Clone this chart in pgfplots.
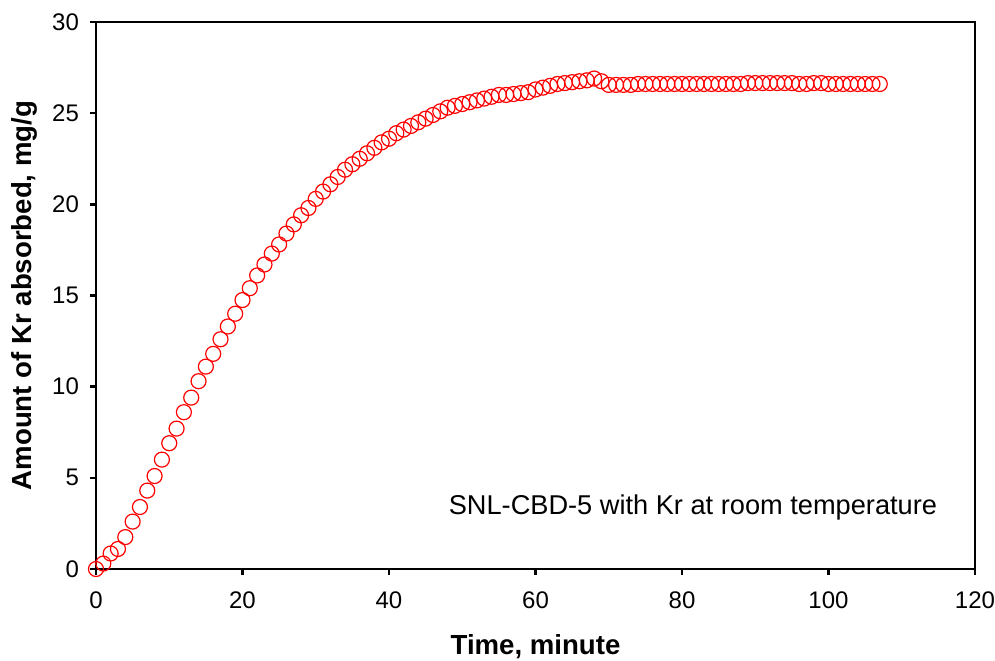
\documentclass[border=0pt]{standalone}
\usepackage{pgfplots}
\pgfplotsset{compat=1.18}
\usepackage{fontspec}
\setmainfont{Liberation Sans}
\begin{document}
\begin{tikzpicture}
\begin{axis}[
  at={(0,0)}, anchor=south west,
  scale only axis, width=439.5pt, height=273.5pt,
  xmin=0, xmax=120, ymin=0, ymax=30,
  xtick={0,20,...,120}, ytick={0,5,...,30},
  tick align=outside, tick pos=left,
  major tick length=3pt,
  axis line style={line width=1.2pt},
  every tick/.style={black, line width=1.2pt},
  /pgf/number format/assume math mode=true,
  ticklabel style={font=\fontsize{12}{14}\selectfont},
  xticklabel style={yshift=-5pt},
  yticklabel style={xshift=-2pt},
  xlabel={\textbf{Time, minute}},
  ylabel={\textbf{Amount of Kr absorbed, mg/g}},
  label style={font=\fontsize{13.8}{16}\selectfont},
  xlabel style={at={(axis description cs:0.5,0)}, anchor=center, yshift=-39pt},
  ylabel style={yshift=0.5pt},
]
\addplot[only marks, mark=o, mark size=3.75pt, mark options={draw=red, line width=0.6pt}] table {
0 0
1 0.3
2 0.85
3 1.1
4 1.75
5 2.6
6 3.4
7 4.3
8 5.1
9 6.0
10 6.9
11 7.7
12 8.6
13 9.4
14 10.3
15 11.1
16 11.8
17 12.6
18 13.3
19 14.0
20 14.75
21 15.4
22 16.1
23 16.7
24 17.3
25 17.8
26 18.4
27 18.9
28 19.4
29 19.8
30 20.3
31 20.7
32 21.1
33 21.5
34 21.9
35 22.2
36 22.5
37 22.8
38 23.1
39 23.4
40 23.6
41 23.9
42 24.1
43 24.3
44 24.5
45 24.7
46 24.9
47 25.1
48 25.3
49 25.4
50 25.5
51 25.6
52 25.7
53 25.8
54 25.9
55 26.0
56 26.0
57 26.05
58 26.1
59 26.15
60 26.3
61 26.4
62 26.5
63 26.6
64 26.65
65 26.7
66 26.75
67 26.8
68 26.9
69 26.75
70 26.55
71 26.55
72 26.55
73 26.55
74 26.6
75 26.6
76 26.6
77 26.6
78 26.6
79 26.6
80 26.6
81 26.6
82 26.6
83 26.6
84 26.6
85 26.6
86 26.6
87 26.6
88 26.6
89 26.65
90 26.65
91 26.65
92 26.65
93 26.65
94 26.65
95 26.65
96 26.6
97 26.6
98 26.65
99 26.65
100 26.6
101 26.6
102 26.6
103 26.6
104 26.6
105 26.6
106 26.6
107 26.6
};
\node[anchor=west, font=\fontsize{13.6}{16}\selectfont] at (axis cs:47.2,3.4) {SNL-CBD-5 with Kr at room temperature};
\end{axis}
\pgfresetboundingbox
\path (-48pt,-45.5pt) rectangle (449.5pt,284.5pt);
\end{tikzpicture}
\end{document}
